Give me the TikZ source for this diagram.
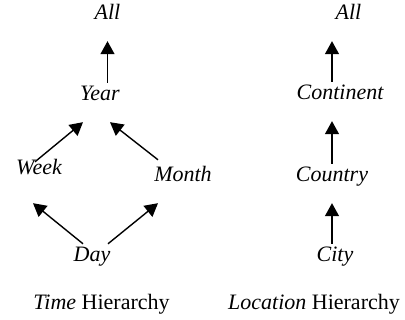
\documentclass[tikz,border=0pt]{standalone}
\usepackage{fontspec}
\setmainfont{Liberation Serif}
\usetikzlibrary{arrows.meta}

\begin{document}
\begin{tikzpicture}[x=1pt, y=1pt, font=\fontsize{22}{26}\selectfont]
  \tikzset{
    lvl/.style={anchor=base, inner sep=0pt, font=\fontsize{22}{26}\selectfont\itshape,
      text height=18pt, text depth=21pt},
    caption/.style={anchor=base, inner sep=0pt},
    arr/.style={-{Triangle[length=13pt, width=14pt]}, line width=1.4pt, black},
  }
  \useasboundingbox (0,0) rectangle (405,320);
  % Time
  \node[lvl] (allL)  at (107.5,300) {All};
  \node[lvl] (year)  at (100,219)   {Year};
  \node[lvl] (week)  at (39,145)    {Week};
  \node[lvl] (month) at (183,138)   {Month};
  \node[lvl] (day)   at (92,58)     {Day};
  \node[caption] (timeH) at (101.5,10)  {\textit{Time} Hierarchy};
  % Location
  \node[lvl] (allR)      at (348.5,300) {All};
  \node[lvl] (continent) at (340,220)   {Continent};
  \node[lvl] (country)   at (332,138)   {Country};
  \node[lvl] (city)      at (335,58)    {City};
  \node[caption] (locH)  at (314,10)    {\textit{Location} Hierarchy};
  % Arrows
  \draw[arr] (allL |- year.north) -- (allL.south);
  \draw[arr] ([xshift=-4pt, yshift=-5pt]week.north) -- ([xshift=-17pt]year.south);
  \draw[arr] ([xshift=-25pt, yshift=4pt]month.north) -- ([xshift=10pt]year.south);
  \draw[arr] ([xshift=-9pt]day.north) -- ([xshift=-6pt, yshift=-7pt]week.south);
  \draw[arr] ([xshift=16pt]day.north) -- ([xshift=-25pt]month.south);
  \draw[arr] (country |- city.north) -- (country.south);
  \draw[arr] (country.north) -- (country |- continent.south);
  \draw[arr] (country |- continent.north) -- (country |- allR.south);
\end{tikzpicture}
\end{document}
